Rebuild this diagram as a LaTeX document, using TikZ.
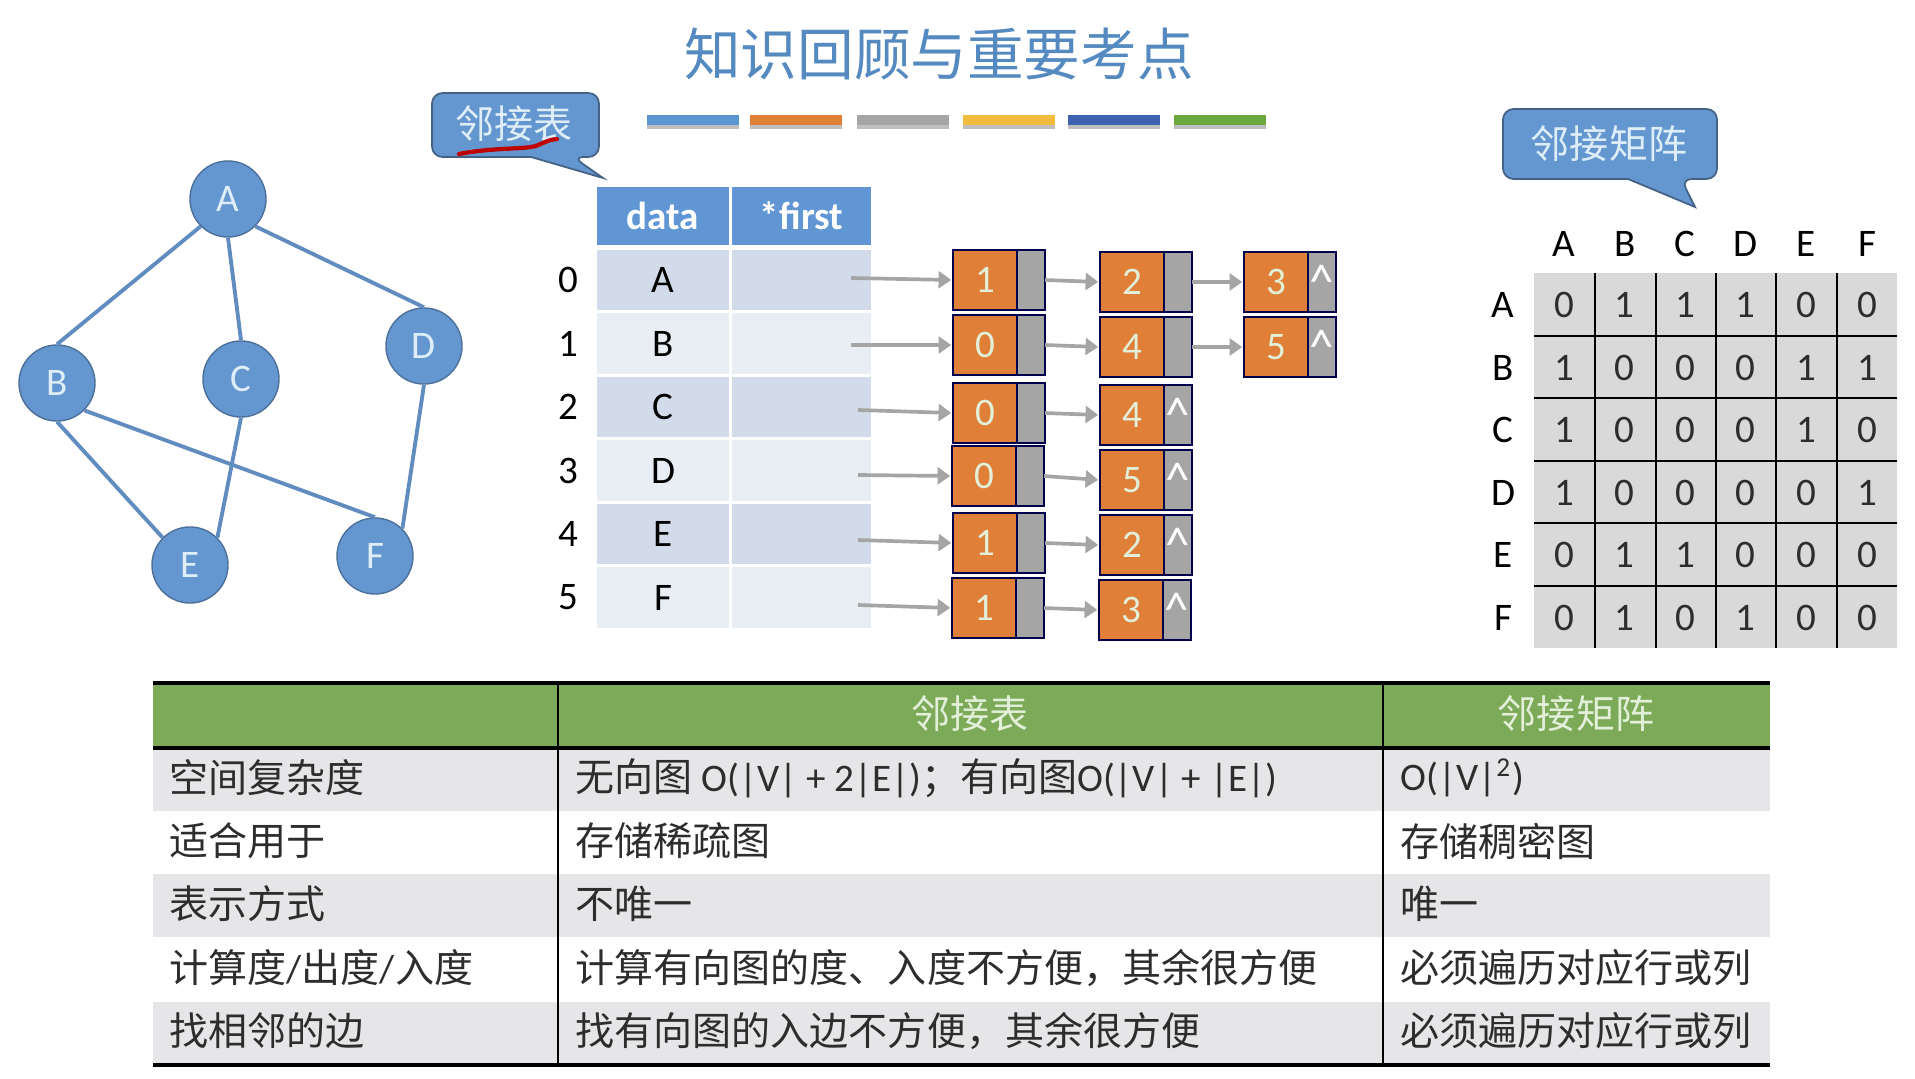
\documentclass[tikz,border=0pt]{standalone}
\usepackage{fontspec}
\setmainfont{Carlito}
\newfontfamily\cjk{Noto Sans CJK SC}
\usepackage{xcolor}
\usetikzlibrary{arrows.meta,positioning}
\definecolor{nodeblue}{RGB}{100,150,208}
\definecolor{edgeblue}{RGB}{96,140,192}
\definecolor{paleblue}{RGB}{222,238,248}
\definecolor{headblue}{RGB}{97,150,212}
\definecolor{rowdark}{RGB}{210,219,234}
\definecolor{rowlight}{RGB}{233,237,244}
\definecolor{cellorange}{RGB}{224,128,56}
\definecolor{cellgray}{RGB}{165,165,165}
\definecolor{headgreen}{RGB}{125,170,88}
\definecolor{palegreen}{RGB}{226,239,217}
\definecolor{stripe}{RGB}{230,230,232}
\definecolor{matgray}{RGB}{217,217,217}
\definecolor{inktext}{RGB}{45,45,45}
\definecolor{barblue}{RGB}{91,150,208}
\definecolor{baryellow}{RGB}{243,187,59}
\definecolor{bardeep}{RGB}{63,98,174}
\definecolor{bargreen}{RGB}{107,169,63}
\newcommand{\bodysize}{\fontsize{11.1}{13}\selectfont}
\newcommand{\zh}[1]{{\cjk #1}}
\newcommand{\nullptr}{{\fontsize{14}{14}\selectfont\textasciicircum}}
\tikzset{
  vertex/.style={circle,draw=edgeblue!80!black,fill=nodeblue,text=paleblue,minimum size=0.76cm,inner sep=0pt,font=\bodysize},
  gedge/.style={edgeblue,line width=1.1pt},
  bubble/.style={fill=nodeblue,draw=edgeblue!70!black,line width=0.5pt},
  bubbletext/.style={text=paleblue,font=\bodysize\cjk,inner sep=0pt},
  plain/.style={text=inktext,font=\bodysize,inner sep=0pt},
  numcell/.style={draw=black!70!blue,fill=cellorange,text=palegreen,minimum width=0.64cm,minimum height=0.6cm,inner sep=0pt,outer sep=0pt,line width=0.6pt,font=\bodysize},
  ptrcell/.style={draw=black!70!blue,fill=cellgray,text=white,minimum width=0.28cm,minimum height=0.6cm,inner sep=0pt,outer sep=0pt,line width=0.6pt,font=\bodysize},
  linkarrow/.style={-{Triangle[length=3.6pt,width=4.8pt]},cellgray,line width=1.05pt,shorten >=0.5pt},
}
\begin{document}
\begin{tikzpicture}[x=0.01cm,y=-0.01cm]
  \useasboundingbox (0,0) rectangle (1915,1079);
  % title and colour strips
  \node[text=barblue!92!black,font=\fontsize{16.1}{19}\selectfont\cjk] (title) at (939,54) {知识回顾与重要考点};
  \foreach \x/\c in {693/barblue,796/cellorange,903/cellgray,1009/baryellow,1114/bardeep,1220/bargreen} {
    \fill[black!25] (\x-46,122) rectangle (\x+46,129);
    \fill[\c] (\x-46,115) rectangle (\x+46,125);
  }
  % graph
  \node[vertex] (A) at (228,199) {A};
  \node[vertex] (B) at (57,383) {B};
  \node[vertex] (C) at (241,379) {C};
  \node[vertex] (D) at (424,346) {D};
  \node[vertex] (E) at (190,565) {E};
  \node[vertex] (F) at (375,556) {F};
  \draw[gedge] (A.south west) -- (B.north);
  \draw[gedge] (A.south) -- (C.north);
  \draw[gedge] (A.south east) -- (D.north);
  \draw[gedge] (B.south) -- (E.north west);
  \draw[gedge] (B.south east) -- (F.north);
  \draw[gedge] (C.south) -- (E.north east);
  \draw[gedge] (D.south) -- (F.north east);
  % callouts
  \draw[bubble,rounded corners=3pt] (500,93) -- (599,93) -- (599,157) -- (573,157) [sharp corners] -- (603,178) -- (531,157) [rounded corners=3pt] -- (432,157) -- (432,93) -- cycle;
  \node[bubbletext] (adjlist) at (514,124) {邻接表};
  \draw[red!75!black,line width=1.2pt,line cap=round] (459,154) .. controls (490,148) and (520,149) .. (531,147) .. controls (540,146) and (545,140) .. (557,139);
  \draw[bubble,rounded corners=3pt] (1600,109) -- (1717,109) -- (1717,179) -- (1681,179) [sharp corners] -- (1695,207) -- (1628,179) [rounded corners=3pt] -- (1503,179) -- (1503,109) -- cycle;
  \node[bubbletext] (adjmat) at (1609,144) {邻接矩阵};
  % vertex table
  \node[fill=headblue,text=white,minimum width=1.32cm,minimum height=0.58cm,inner sep=0pt,font=\bodysize\bfseries] (headdata) at (663,216) {data};
  \node[fill=headblue,text=white,minimum width=1.39cm,minimum height=0.58cm,inner sep=0pt,font=\bodysize\bfseries] (headfirst) at (801.5,216) {*first};
  \foreach \r/\v/\c in {0/A/rowdark,1/B/rowlight,2/C/rowdark,3/D/rowlight,4/E/rowdark,5/F/rowlight} {
    \node[fill=\c,text=black,minimum width=1.32cm,minimum height=0.605cm,inner sep=0pt,font=\bodysize] (data\r) at (663,280+63.5*\r) {\v};
    \node[fill=\c,minimum width=1.39cm,minimum height=0.605cm,inner sep=0pt] (first\r) at (801.5,280+63.5*\r) {};
    \node[plain,text=black] (idx\r) at (568,280+63.5*\r) {\r};
  }
  % adjacency lists, first and second cells
  \foreach \r/\xa/\ya/\da/\ta/\xb/\yb/\db/\tb/\s/\y in {
      0/953/250/1//1100/252/2//851/278,
      1/953/315/0//1100/317/4//851/345,
      2/953/383/0//1100/385/4/\nullptr/858/410,
      3/952/446/0//1100/450/5/\nullptr/858/475,
      4/953/513/1//1100/515/2/\nullptr/858/540,
      5/952/578/1//1099/580/3/\nullptr/858/605} {
    \node[numcell,anchor=north west] (num\r a) at (\xa,\ya) {\da};
    \node[ptrcell,right=0pt of num\r a] (ptr\r a) {\ta};
    \node[numcell,anchor=north west] (num\r b) at (\xb,\yb) {\db};
    \node[ptrcell,right=0pt of num\r b] (ptr\r b) {\tb};
    \coordinate (start\r) at (\s,\y);
    \draw[linkarrow] (start\r) -- (num\r a.west);
    \draw[linkarrow] (ptr\r a.east) -- (num\r b.west);
  }
  % third cells
  \foreach \r/\ya/\da in {0/252/3,1/317/5} {
    \node[numcell,anchor=north west] (num\r c) at (1244,\ya) {\da};
    \node[ptrcell,right=0pt of num\r c] (ptr\r c) {\nullptr};
    \draw[linkarrow] (ptr\r b.east) -- (num\r c.west);
  }
  % adjacency matrix
  \fill[matgray] (1534,273) rectangle (1897,648);
  \foreach \x in {1595,1656,1716,1776,1837} \draw[black,line width=0.5pt] (\x,273) -- (\x,648);
  \foreach \y in {336,398,461,523,586} \draw[black,line width=0.5pt] (1534,\y) -- (1897,\y);
  \foreach \v [count=\i from 0] in {A,B,C,D,E,F} {
    \node[plain,text=black] (colhead\i) at (1564+60.6*\i,244) {\v};
    \node[plain,text=black] (rowhead\i) at (1503,305+62.6*\i) {\v};
  }
  \foreach \row [count=\j from 0] in {{0,1,1,1,0,0},{1,0,0,0,1,1},{1,0,0,0,1,0},{1,0,0,0,0,1},{0,1,1,0,0,0},{0,1,0,1,0,0}}
    \foreach \v [count=\i from 0] in \row
      \node[plain] (mat\j\i) at (1564+60.6*\i,305+62.6*\j) {\v};
  % comparison table
  \fill[headgreen] (153,683) rectangle (1770,748);
  \foreach \y in {748,874,1002} \fill[stripe] (153,\y) rectangle (1770,\y+63);
  \draw[black,line width=0.5pt] (558,683) -- (558,1065);
  \draw[black,line width=0.5pt] (1383,683) -- (1383,1065);
  \draw[black,line width=1.2pt] (153,683) -- (1770,683);
  \draw[black,line width=1.2pt] (153,748) -- (1770,748);
  \draw[black,line width=1.2pt] (153,1065) -- (1770,1065);
  \node[text=palegreen,font=\bodysize\cjk] (headlist) at (970,714) {邻接表};
  \node[text=palegreen,font=\bodysize\cjk] (headmat) at (1576,714) {邻接矩阵};
  \node[plain,anchor=west] (lab0) at (169,778) {\zh{空间复杂度}};
  \node[plain,anchor=west] (mid0) at (575,778) {\zh{无向图} O(|V| + 2|E|)\zh{；有向图}O(|V| + |E|)};
  \node[plain,anchor=west] (rig0) at (1400,778) {O(|V|\textsuperscript{2})};
  \node[plain,anchor=west] (lab1) at (169,841) {\zh{适合用于}};
  \node[plain,anchor=west] (mid1) at (575,841) {\zh{存储稀疏图}};
  \node[plain,anchor=west] (rig1) at (1400,841) {\zh{存储稠密图}};
  \node[plain,anchor=west] (lab2) at (169,904) {\zh{表示方式}};
  \node[plain,anchor=west] (mid2) at (575,904) {\zh{不唯一}};
  \node[plain,anchor=west] (rig2) at (1400,904) {\zh{唯一}};
  \node[plain,anchor=west] (lab3) at (169,968) {\zh{计算度}/\zh{出度}/\zh{入度}};
  \node[plain,anchor=west] (mid3) at (575,968) {\zh{计算有向图的度、入度不方便，其余很方便}};
  \node[plain,anchor=west] (rig3) at (1400,968) {\zh{必须遍历对应行或列}};
  \node[plain,anchor=west] (lab4) at (169,1031) {\zh{找相邻的边}};
  \node[plain,anchor=west] (mid4) at (575,1031) {\zh{找有向图的入边不方便，其余很方便}};
  \node[plain,anchor=west] (rig4) at (1400,1031) {\zh{必须遍历对应行或列}};
\end{tikzpicture}
\end{document}
